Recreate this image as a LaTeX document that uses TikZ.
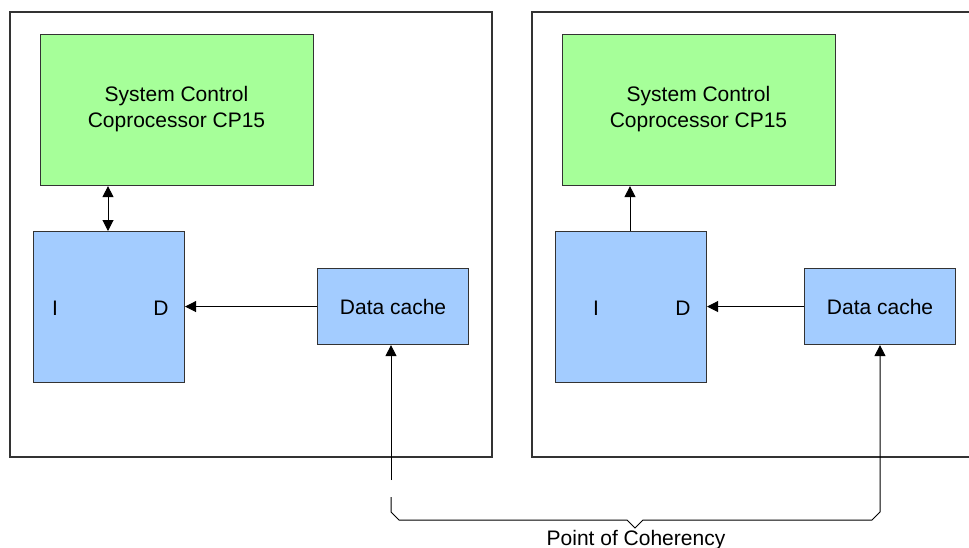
\documentclass[tikz,border=0pt]{standalone}
\usepackage{fontspec}
\setmainfont{Liberation Sans}
\usetikzlibrary{arrows.meta}
\definecolor{cpgreen}{RGB}{166,255,153}
\definecolor{cpblue}{RGB}{163,204,255}
\definecolor{edge}{RGB}{51,51,51}
\begin{document}
\begin{tikzpicture}[x=1pt,y=-1pt,
  outerbox/.style={draw=edge,line width=1.1pt},
  greenbox/.style={draw=edge,fill=cpgreen,line width=1.1pt},
  bluebox/.style={draw=edge,fill=cpblue,line width=1.1pt},
  lbl/.style={font=\fontsize{21}{26}\selectfont,align=center,inner sep=0pt},
  conn/.style={draw=black,line width=1pt},
  tip/.style={-{Triangle[length=11pt,width=11pt]}},
  dtip/.style={{Triangle[length=11pt,width=11pt]}-{Triangle[length=11pt,width=11pt]}}]
\useasboundingbox (0,0) rectangle (969,547);
\clip (0,0) rectangle (969,547);
\fill[white] (0,0) rectangle (969,547);
% outer boxes
\draw[outerbox] (10,12) rectangle (492,457);
\draw[outerbox] (532,12) rectangle (990,457);
% left CPU
\node[greenbox,minimum width=273pt,minimum height=151pt,anchor=north west,inner sep=0pt] (cpA) at (40,34) {};
\node[lbl] at (176.5,109) {System Control\\Coprocessor CP15};
\node[bluebox,minimum width=151pt,minimum height=151pt,anchor=north west,inner sep=0pt] (idA) at (33,231) {};
\node[lbl] (iA) at (55,308) {I};
\node[lbl] (dA) at (161,308) {D};
\node[bluebox,lbl,minimum width=151pt,minimum height=76pt,anchor=north west] (dcA) at (317,268) {Data cache};
% right CPU
\node[greenbox,minimum width=273pt,minimum height=151pt,anchor=north west,inner sep=0pt] (cpB) at (562,34) {};
\node[lbl] at (698.5,109) {System Control\\Coprocessor CP15};
\node[bluebox,minimum width=151pt,minimum height=151pt,anchor=north west,inner sep=0pt] (idB) at (555,231) {};
\node[lbl] (iB) at (596,308) {I};
\node[lbl] (dB) at (683,308) {D};
\node[bluebox,lbl,minimum width=151pt,minimum height=76pt,anchor=north west] (dcB) at (804,268) {Data cache};
% connectors
\draw[conn,dtip] (cpA.south -| 108,0) -- (idA.north -| 108,0);
\draw[conn,tip] (idB.north -| 630,0) -- (cpB.south -| 630,0);
\draw[conn,tip] (dcA.west) -- (idA.east |- dcA.west);
\draw[conn,tip] (dcB.west) -- (idB.east |- dcB.west);
% point of coherency
\coordinate (la) at (391,480);
\coordinate (lb) at (391,497);
\coordinate (tipc) at (635,528);
\draw[conn,tip] (la) -- (dcA.south -| la);
\draw[conn,tip,line join=miter] (lb) -- (391,512) -- (399,520) -- (627,520) -- (tipc) -- (643,520) -- (872,520) -- (880,512) -- (dcB.south -| 880,0);
\node[lbl] (poc) at (636,540.5) {Point of Coherency};
\end{tikzpicture}
\end{document}
